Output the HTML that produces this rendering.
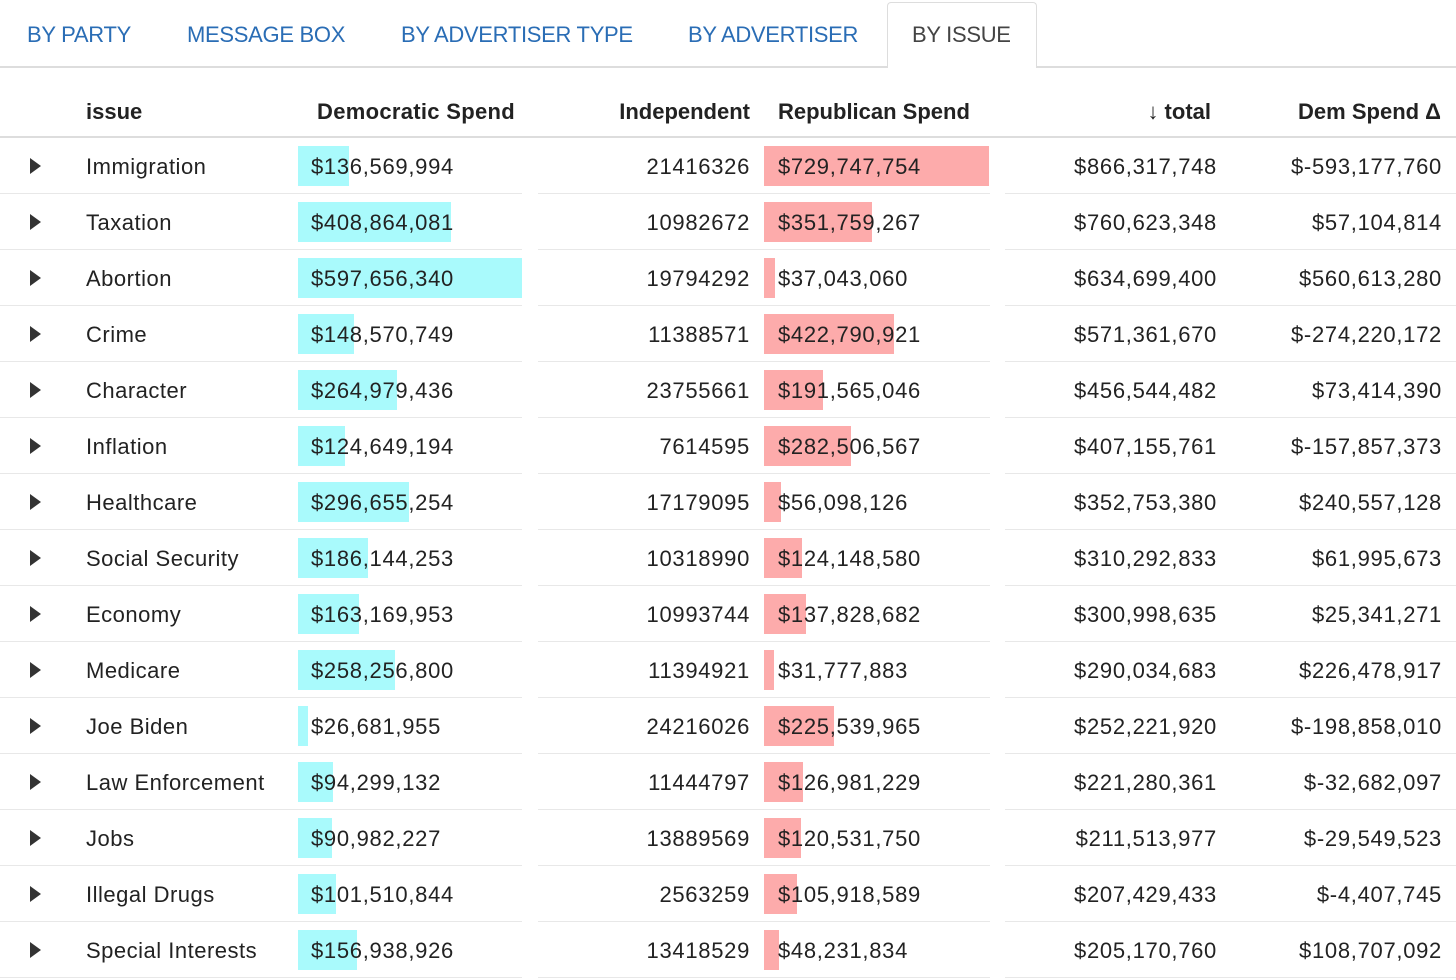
<!DOCTYPE html>
<html><head><meta charset="utf-8">
<style>
body{margin:0;width:1456px;height:980px;overflow:hidden;background:#fff;font-family:"Liberation Sans",sans-serif;color:#222;position:relative}
.a{position:absolute;white-space:nowrap}
.tab{position:absolute;top:20px;font-size:22px;color:#2a6db5;line-height:30px;letter-spacing:-0.3px}
.h{font-size:22px;font-weight:bold;top:97px;line-height:30px}
.c{font-size:22px;line-height:30px;letter-spacing:0.7px}
.r{text-align:right}
</style></head><body>
<div class="a" style="left:0;top:66px;width:1456px;height:2px;background:#ddd"></div>
<div class="a" style="left:887px;top:2px;width:148px;height:65px;border:1px solid #ddd;border-bottom:none;border-radius:4px 4px 0 0;background:#fff"></div>
<div class="tab" style="left:27px">BY PARTY</div>
<div class="tab" style="left:187px">MESSAGE BOX</div>
<div class="tab" style="left:401px">BY ADVERTISER TYPE</div>
<div class="tab" style="left:688px">BY ADVERTISER</div>
<div class="tab" style="left:912px;color:#444">BY ISSUE</div>

<div class="a h" style="left:86px">issue</div>
<div class="a h" style="left:317px;letter-spacing:0.3px">Democratic Spend</div>
<div class="a h r" style="right:706px">Independent</div>
<div class="a h" style="left:778px">Republican Spend</div>
<div class="a h r" style="right:245px">↓ total</div>
<div class="a h r" style="right:15px">Dem Spend Δ</div>
<div class="a" style="left:0;top:136px;width:1456px;height:2px;background:#ddd"></div>
<div id="rows"></div>
<script>
const issues=["Immigration","Taxation","Abortion","Crime","Character","Inflation","Healthcare","Social Security","Economy","Medicare","Joe Biden","Law Enforcement","Jobs","Illegal Drugs","Special Interests"];
const demSpend=[136569994,408864081,597656340,148570749,264979436,124649194,296655254,186144253,163169953,258256800,26681955,94299132,90982227,101510844,156938926];
const independent=[21416326,10982672,19794292,11388571,23755661,7614595,17179095,10318990,10993744,11394921,24216026,11444797,13889569,2563259,13418529];
const repSpend=[729747754,351759267,37043060,422790921,191565046,282506567,56098126,124148580,137828682,31777883,225539965,126981229,120531750,105918589,48231834];
const total=[866317748,760623348,634699400,571361670,456544482,407155761,352753380,310292833,300998635,290034683,252221920,221280361,211513977,207429433,205170760];
const demDelta=[-593177760,57104814,560613280,-274220172,73414390,-157857373,240557128,61995673,25341271,226478917,-198858010,-32682097,-29549523,-4407745,108707092];

const fmt=v=>'$'+(v<0?'-':'')+Math.abs(v).toLocaleString('en-US');
const demMax=Math.max(...demSpend), repMax=Math.max(...repSpend);
const demX=v=>v/demMax*224, repX=v=>v/repMax*225;
const root=document.getElementById('rows');
function el(cls,style,text){const d=document.createElement('div');d.className='a '+cls;d.style.cssText=style;if(text!=null)d.textContent=text;root.appendChild(d);return d;}
issues.forEach((name,i)=>{
  const top=138+i*56, ty=top+14;
  let d;
  d=el('','left:30px;top:'+(top+20)+'px;width:0;height:0;border-left:11px solid #333;border-top:8px solid transparent;border-bottom:8px solid transparent');
  
  
  d=el('','left:298px;top:'+(top+8)+'px;height:40px;background:#a9fafc;width:'+demX(demSpend[i])+'px');
  
  
  d=el('','left:764px;top:'+(top+8)+'px;height:40px;background:#fdabab;width:'+repX(repSpend[i])+'px');
  
  
  d=el('c','left:86px;top:'+ty+'px;letter-spacing:0.5px',name);
  
  
  d=el('c','left:311px;top:'+ty+'px',fmt(demSpend[i]));
  
  
  d=el('c r','right:706px;top:'+ty+'px',String(independent[i]));
  
  
  d=el('c','left:778px;top:'+ty+'px',fmt(repSpend[i]));
  
  
  d=el('c r','right:239px;top:'+ty+'px',fmt(total[i]));
  
  
  d=el('c r','right:14px;top:'+ty+'px',fmt(demDelta[i]));
  
  
  [[0,522],[538,990],[1005,1456]].forEach(s=>{
    d=el('','left:'+s[0]+'px;top:'+(top+55)+'px;width:'+(s[1]-s[0])+'px;height:1px;background:#e8e8e8');
    
    
  });
});
</script>
</body></html>
